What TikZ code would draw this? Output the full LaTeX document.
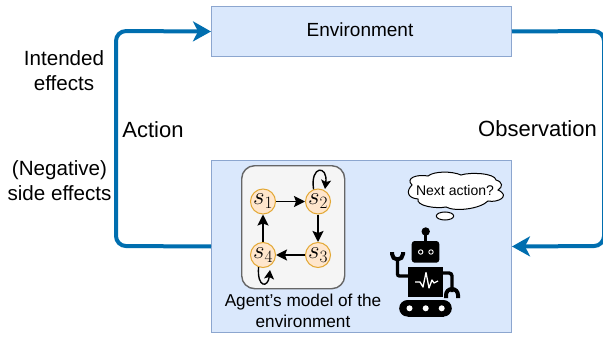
\documentclass[tikz,border=0pt]{standalone}
\usepackage{fontspec}
\setmainfont{Liberation Sans}
\usetikzlibrary{arrows.meta}
\definecolor{boxfill}{HTML}{DAE8FC}
\definecolor{boxline}{HTML}{8CA6CF}
\definecolor{flow}{HTML}{006EAF}
\definecolor{statefill}{HTML}{FFE6CC}
\definecolor{stateline}{HTML}{E3A835}
\definecolor{modelfill}{HTML}{F5F5F5}
\definecolor{modelline}{HTML}{666666}
\tikzset{
  panel/.style={draw=boxline,fill=boxfill,line width=1pt,minimum width=300pt,inner sep=0pt,anchor=north west},
  flowline/.style={draw=flow,line width=4pt,rounded corners=10pt},
  flowtip/.style={-{Stealth[length=18pt,width=20pt,inset=5pt]}},
  state/.style={circle,draw=stateline,fill=statefill,line width=1pt,minimum size=25pt,inner sep=0pt,font=\fontsize{24}{24}\selectfont},
  trans/.style={draw=black,line width=1.8pt,-{Stealth[length=11pt,width=11pt,inset=2pt]}},
  label/.style={align=center,inner sep=0pt,font=\fontsize{20.6}{25}\selectfont,text=black},
  robot/.style={fill=black,draw=none},
  robotline/.style={draw=black,line width=3.4pt},
}
\begin{document}
\begin{tikzpicture}[x=1pt,y=-1pt]
\useasboundingbox (0,0) rectangle (603,337);
\clip (0,0) rectangle (603,337);
\node[panel,minimum height=50pt] (env) at (211,6) {};
\node[label,font=\fontsize{19}{22}\selectfont] (envt) at (360,30) {Environment};
\node[panel,minimum height=172pt] (agent) at (211,160) {};
\node[draw=modelline,fill=modelfill,line width=1.4pt,rounded corners=13pt,minimum width=103pt,minimum height=123pt,inner sep=0pt,anchor=north west] (model) at (241,165) {};
\node[state] (s1) at (263,201.5) {$s_1$};
\node[state] (s2) at (318,201.5) {$s_2$};
\node[state] (s3) at (318,255) {$s_3$};
\node[state] (s4) at (263,255) {$s_4$};
\draw[trans] (s1) -- (s2);
\draw[trans] (s2) -- (s3);
\draw[trans] (s3) -- (s4);
\draw[trans] (s4) -- (s1);
\draw[trans,line width=1.4pt,-{Stealth[length=9pt,width=10pt,inset=2pt]}] (s2.110) .. controls (310,165) and (328,165) .. (325,189);
\draw[trans,line width=1.4pt,-{Stealth[length=9pt,width=10pt,inset=2pt]}] (s4.250) .. controls (257,288) and (268,288) .. (270,270);
\coordinate (ltop) at (116,31);
\coordinate (lbot) at (116,246);
\coordinate (rtop) at (604,31);
\coordinate (rbot) at (604,246);
\draw[flowline,flowtip] (agent.west) -- (lbot) -- (ltop) -- (env.west);
\draw[flowline,flowtip] (env.east) -- (rtop) -- (rbot) -- (agent.east);
\node[label] (l1) at (64,70.5) {Intended\\effects};
\node[label] (l2) at (59.5,181) {(Negative)\\side effects};
\node[label,font=\fontsize{22}{25}\selectfont] (l3) at (153,129.5) {Action};
\node[label,font=\fontsize{22}{25}\selectfont] (l4) at (537.5,128.5) {Observation};
\node[label,font=\fontsize{17.2}{21}\selectfont] (l5) at (303,310.5) {Agent's model of the\\environment};
% thought cloud
\draw[black,fill=white,line width=1pt]
  (412,185) .. controls (405,178) and (417,174) .. (428,176)
  .. controls (434,171) and (452,171) .. (461,175)
  .. controls (470,172) and (495,173) .. (496,180)
  .. controls (503,182) and (503,187) .. (498,190)
  .. controls (511,196) and (498,203) .. (488,201)
  .. controls (480,209) and (455,212) .. (446,207)
  .. controls (436,209) and (416,206) .. (418,199)
  .. controls (407,198) and (406,191) .. (412,185) -- cycle;
\node[inner sep=0pt,font=\fontsize{14}{14}\selectfont] (cloud) at (455,190) {Next action?};
\draw[black,fill=white,line width=1pt] (445,216) ellipse (8.7 and 4);
% robot
\draw[robotline] (425.7,232) -- (425.7,243);
\fill[robot] (425.7,231.5) circle (4.2);
\fill[robot,rounded corners=3pt] (411.7,241) rectangle (439.3,262.7);
\draw[white,line width=.9pt] (420.7,252) circle (2.2) (431,252) circle (2.2);
\fill[robot] (408.3,266.7) rectangle (443.3,296.7);
\draw[white,line width=1.3pt,line join=round] (415,282) -- (420,282) -- (423,287) -- (426,272.5) -- (429,288) -- (432,280) -- (434,283) -- (438,281);
\draw[robotline,rounded corners=2pt] (409,276) -- (397.5,276) -- (397.5,258);
\draw[black,line width=4pt] (392,252) -- (392,254) arc[start angle=180,end angle=0,radius=5.5] -- (403,252);
\draw[robotline,rounded corners=3pt] (443,273) -- (452,273) -- (452,292);
\draw[black,line width=4pt] (446,298) -- (446,295) arc[start angle=180,end angle=360,radius=6] -- (458,298);
\fill[robot] (407.5,300) rectangle (443.5,316.7);
\fill[robot] (407.5,308.3) circle (8.3);
\fill[robot] (443.5,308.3) circle (8.3);
\fill[white] (409.5,308.3) circle (3);
\fill[white] (425.7,308.3) circle (3);
\fill[white] (441.7,308.3) circle (3);
\end{tikzpicture}
\end{document}
